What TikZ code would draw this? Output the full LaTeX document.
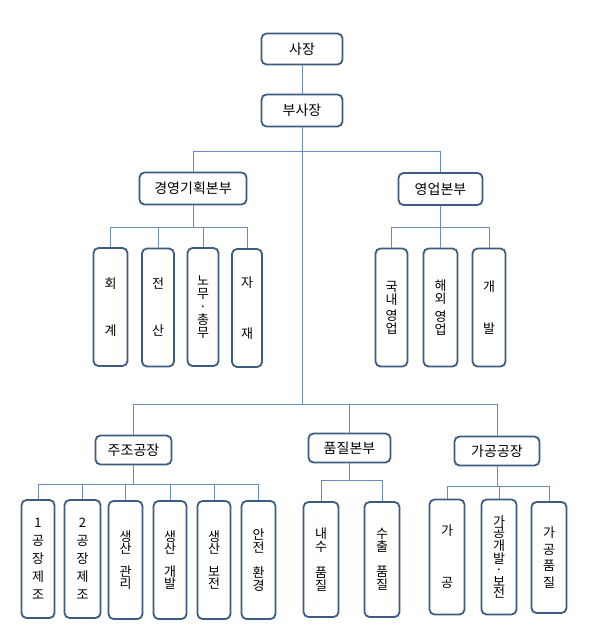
\documentclass[tikz,border=0pt]{standalone}
\usepackage{fontspec}
\setmainfont{Noto Sans CJK KR}
\definecolor{boxline}{RGB}{62,92,130}
\definecolor{conn}{RGB}{105,140,190}
\begin{document}
\begin{tikzpicture}[x=1pt,y=-1pt,
  box/.style={draw=boxline, line width=1.8pt, rounded corners=5pt, fill=white, inner sep=0pt, align=center},
  hbox/.style={box, font=\fontsize{14}{16}\selectfont},
  vbox/.style={box, minimum width=34pt, minimum height=118pt, font=\fontsize{13}{13}\selectfont},
  link/.style={draw=conn, line width=1pt}]
\useasboundingbox[fill=white] (0,0) rectangle (589,632);
% top levels
\node[hbox, minimum width=81pt, minimum height=31pt] (boss) at (302,49) {사장};
\node[hbox, minimum width=81pt, minimum height=32pt] (vp) at (302,110.5) {부사장};
\node[hbox, minimum width=107pt, minimum height=32pt] (mgmt) at (193,188.5) {경영기획본부};
\node[hbox, minimum width=84pt, minimum height=32pt] (sales) at (440.5,189) {영업본부};
\node[hbox, minimum width=76pt, minimum height=29pt] (cast) at (133.5,450) {주조공장};
\node[hbox, minimum width=82pt, minimum height=29pt] (qual) at (349.5,448) {품질본부};
\node[hbox, minimum width=85pt, minimum height=29pt] (proc) at (497,451) {가공공장};
% row 1
\node[vbox, minimum width=34pt] (acc) at (110.5,307) {회\\[34pt]계};
\node[vbox, minimum width=32pt] (it) at (158,307.5) {전\\[34pt]산};
\node[vbox, minimum width=31pt] (labor) at (203,307) {노\\무\\·\\총\\무};
\node[vbox, minimum width=30pt] (mat) at (247,308) {자\\[38pt]재};
\node[vbox, minimum width=32pt] (dom) at (391.5,307.5) {국\\내\\[3pt]영\\업};
\node[vbox, minimum width=34pt] (ovs) at (440.5,307.5) {해\\외\\[5pt]영\\업};
\node[vbox, minimum width=33pt] (dev) at (489,307.5) {개\\[29pt]발};
% row 2
\node[vbox, minimum width=33pt, font=\fontsize{13}{18}\selectfont] (f1) at (38,559) {1\\공\\장\\제\\조};
\node[vbox, minimum width=36pt, font=\fontsize{13}{18}\selectfont] (f2) at (82.5,559) {2\\공\\장\\제\\조};
\node[vbox, minimum width=34pt, font=\fontsize{13}{12.5}\selectfont] (pm) at (125.5,560) {생\\산\\[10pt]관\\리};
\node[vbox, minimum width=33pt, font=\fontsize{13}{12.5}\selectfont] (pd) at (170,560) {생\\산\\[10pt]개\\발};
\node[vbox, minimum width=33pt, font=\fontsize{13}{12.5}\selectfont] (pmt) at (214,560) {생\\산\\[10pt]보\\전};
\node[vbox, minimum width=34pt, font=\fontsize{13}{12.5}\selectfont] (safe) at (258.5,560) {안\\전\\[13pt]환\\경};
\node[vbox, minimum width=35pt, minimum height=115pt, font=\fontsize{13}{13}\selectfont] (q1) at (321,559.5) {내\\수\\[13pt]품\\질};
\node[vbox, minimum width=35pt, minimum height=115pt, font=\fontsize{13}{13}\selectfont] (q2) at (382,559.5) {수\\출\\[12pt]품\\질};
\node[vbox, minimum width=35pt, minimum height=115pt] (p1) at (447,557) {가\\[39pt]공};
\node[vbox, minimum width=35pt, minimum height=115pt, font=\fontsize{13}{11.5}\selectfont] (p2) at (499,557) {가\\공\\개\\발\\·\\보\\전};
\node[vbox, minimum width=35pt, minimum height=111pt, font=\fontsize{13}{16.5}\selectfont] (p3) at (549,557.5) {가\\공\\품\\질};
% bus levels
\coordinate (b1) at (0,151);
\coordinate (b2) at (0,227);
\coordinate (b3) at (0,404);
\coordinate (b4) at (0,484);
\coordinate (b5) at (0,480);
\coordinate (b6) at (0,486);
% connectors
\draw[link] (boss) -- (vp);
\draw[link] (vp.south) -- (vp.south |- b3);
\draw[link] (mgmt.north) |- (sales.north |- b1) -- (sales.north);
\draw[link] (mgmt.south) -- (mgmt.south |- b2);
\draw[link] (acc.north) |- (mat.north |- b2) -- (mat.north);
\foreach \n in {it,labor} \draw[link] (\n.north) -- (\n.north |- b2);
\draw[link] (sales.south) -- (sales.south |- b2);
\draw[link] (dom.north) |- (dev.north |- b2) -- (dev.north);
\draw[link] (ovs.north) -- (ovs.north |- b2);
\draw[link] (cast.north) |- (proc.north |- b3) -- (proc.north);
\draw[link] (qual.north) -- (qual.north |- b3);
\draw[link] (cast.south) -- (cast.south |- b4);
\draw[link] (f1.north) |- (safe.north |- b4) -- (safe.north);
\foreach \n in {f2,pm,pd,pmt} \draw[link] (\n.north) -- (\n.north |- b4);
\draw[link] (qual.south) -- (qual.south |- b5);
\draw[link] (q1.north) |- (q2.north |- b5) -- (q2.north);
\draw[link] (proc.south) -- (proc.south |- b6);
\draw[link] (p1.north) |- (p3.north |- b6) -- (p3.north);
\draw[link] (p2.north) -- (p2.north |- b6);
\end{tikzpicture}
\end{document}
